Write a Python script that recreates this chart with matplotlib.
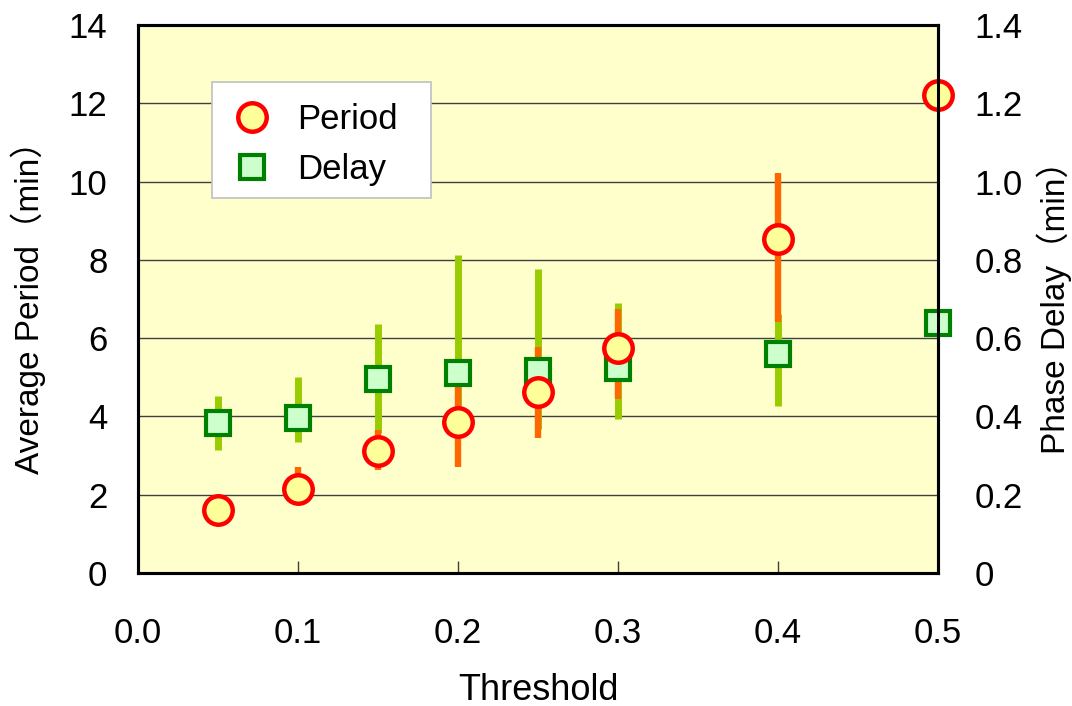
import matplotlib
matplotlib.use("Agg")
import matplotlib.pyplot as plt
from matplotlib.patches import Rectangle

# ---- data ----
threshold = [0.05, 0.10, 0.15, 0.20, 0.25, 0.30, 0.40, 0.50]
period = [1.61, 2.15, 3.12, 3.86, 4.63, 5.75, 8.52, 12.2]
period_lo = [1.40, 1.80, 2.63, 2.71, 3.45, 4.45, 6.42, 12.2]
period_hi = [1.85, 2.71, 3.66, 4.90, 5.78, 6.75, 10.23, 12.2]
delay = [0.384, 0.396, 0.496, 0.512, 0.517, 0.524, 0.560, 0.639]
delay_lo = [0.315, 0.335, 0.358, 0.425, 0.368, 0.394, 0.427, 0.639]
delay_hi = [0.453, 0.501, 0.637, 0.813, 0.777, 0.690, 0.662, 0.639]
xticks = [0.0, 0.1, 0.2, 0.3, 0.4, 0.5]
yticks_left = [0, 2, 4, 6, 8, 10, 12, 14]
yticks_right = [0, 0.2, 0.4, 0.6, 0.8, 1.0, 1.2, 1.4]

FONT = ["Liberation Sans", "Noto Sans CJK JP", "DejaVu Sans"]
plt.rcParams["font.family"] = FONT

fig = plt.figure(figsize=(10.72, 7.06), dpi=100)
ax = fig.add_axes([0.1287, 0.1884, 0.7465, 0.7762])
ax2 = ax.twinx()

ax.set_facecolor("#FFFFCC")
ax.set_xlim(0, 0.5)
ax.set_ylim(0, 14)
ax2.set_ylim(0, 1.4)

ax.set_axisbelow(True)
ax.yaxis.grid(True, color="#404040", lw=1.0)
ax.xaxis.grid(False)

# delay error bars (green) drawn through secondary axis scale
ax.vlines(threshold, delay_lo, delay_hi, colors="#99CC00", lw=5.0,
          transform=ax2.transData, zorder=3, capstyle="butt")
# period error bars (orange)
ax.vlines(threshold, period_lo, period_hi, colors="#FF6600", lw=4.6,
          zorder=4, capstyle="butt")
hd, = ax.plot(threshold, delay, ls="none", marker="s", ms=17.5,
              mfc="#CCFFCC", mec="#008000", mew=3.0,
              transform=ax2.transData, zorder=5, clip_on=False, label="Delay")
hp, = ax.plot(threshold, period, ls="none", marker="o", ms=20.5,
              mfc="#FFFF99", mec="#FF0000", mew=3.2, zorder=6,
              clip_on=False, label="Period")

ax.set_xticks(xticks)
ax.set_xticklabels([f"{v:.1f}" for v in xticks])
ax.set_yticks(yticks_left)
ax.set_yticklabels([str(v) for v in yticks_left])
ax2.set_yticks(yticks_right)
ax2.set_yticklabels(["0"] + [f"{v:.1f}" for v in yticks_right[1:]])

ax.tick_params(axis="x", direction="in", length=8.5, width=1, color="#404040",
               labelsize=25, pad=32)
ax.tick_params(axis="y", direction="in", length=0, labelsize=25, pad=22)
ax2.tick_params(axis="y", direction="in", length=0, labelsize=25, pad=26)

for a in (ax, ax2):
    for s in a.spines.values():
        s.set_linewidth(2.2)
        s.set_color("black")

ax.set_xlabel("Threshold", fontsize=26, labelpad=16)
ax.set_ylabel("Average Period（min）", fontsize=24, labelpad=16)
ax2.set_ylabel("Phase Delay（min）", fontsize=24, labelpad=10)

# legend frame
frame = Rectangle((0.0926, 0.684), 0.2741, 0.212, transform=ax.transAxes,
                  facecolor="white", edgecolor="#C0C0C0", lw=1.2, zorder=9)
ax.add_patch(frame)
leg = ax.legend(handles=[hp, hd], loc="upper left",
                bbox_to_anchor=(0.1185, 0.858), fontsize=25,
                frameon=False, handlelength=1.1, handletextpad=0.75,
                borderpad=0.0, labelspacing=0.5, borderaxespad=0)
leg.set_zorder(10)

fig.savefig("out.png", dpi=100)
